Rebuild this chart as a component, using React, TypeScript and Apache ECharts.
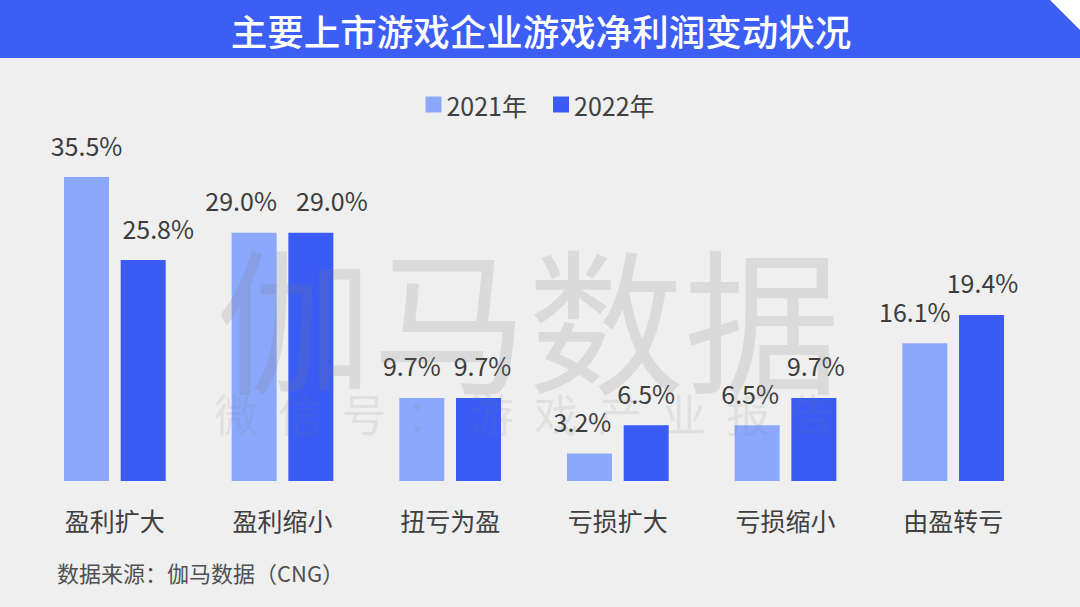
import React, { useEffect, useRef } from "react";
import * as echarts from "echarts";

const categories = ["盈利扩大", "盈利缩小", "扭亏为盈", "亏损扩大", "亏损缩小", "由盈转亏"];
const series2021 = [35.5, 29.0, 9.7, 3.2, 6.5, 16.1];
const series2022 = [25.8, 29.0, 9.7, 6.5, 9.7, 19.4];
const seriesNames = ["2021年", "2022年"];
const title = "主要上市游戏企业游戏净利润变动状况";
const source = "数据来源：伽马数据（CNG）";
const watermark = "伽马数据";
const watermarkSub = "微信号：游戏产业报告".split("");

// label horizontal nudges (style only)
const labelDx2021 = [0, -13, -10, -7, -7, -10];
const labelDx2022 = [15, 21, 4, 0, 2, 1];

const FONT = "'Noto Sans CJK SC', 'Noto Sans', sans-serif";

export default function App() {
  const ref = useRef<HTMLDivElement>(null);
  useEffect(() => {
    if (!ref.current) return;
    const chart = echarts.init(ref.current, null, { renderer: "svg" });
    const labelStyle = {
      show: true,
      position: "top",
      distance: 20,
      fontSize: 25,
      color: "#3c3c3c",
      fontFamily: FONT,
      formatter: (p: any) => p.value.toFixed(1) + "%",
    };
    const mk = (vals: number[], dx: number[]) =>
      vals.map((v, i) => ({ value: v, label: { offset: [dx[i], 0] } }));
    const subChars = watermarkSub.map((c, i) => ({
      type: "text",
      z: 100,
      x: 236 + i * 64,
      y: 413,
      silent: true,
      style: {
        text: c,
        fontSize: 44,
        fontFamily: FONT,
        fill: "rgba(120,120,120,0.14)",
        align: "center",
        verticalAlign: "middle",
      },
    }));
    chart.setOption({
      animation: false,
      backgroundColor: "#ffffff",
      textStyle: { fontFamily: FONT },
      graphic: [
        { type: "rect", z: -10, shape: { x: 0, y: 58, width: 1080, height: 549 }, style: { fill: "#efefef" } },
        {
          type: "polygon",
          z: -9,
          shape: { points: [[0, 0], [1050, 0], [1080, 30], [1080, 58], [0, 58]] },
          style: { fill: "#3d5ef5" },
        },
        {
          type: "text",
          z: 10,
          x: 541,
          y: 30,
          style: {
            text: title,
            fontSize: 36.5,
            fontWeight: 500,
            fontFamily: FONT,
            fill: "#ffffff",
            align: "center",
            verticalAlign: "middle",
          },
        },
        {
          type: "text",
          z: 10,
          x: 57,
          y: 572,
          style: {
            text: source,
            fontSize: 22,
            fontFamily: FONT,
            fill: "#505050",
            align: "left",
            verticalAlign: "middle",
          },
        },
        {
          type: "text",
          z: 100,
          x: 528,
          y: 314,
          silent: true,
          style: {
            text: watermark,
            fontSize: 156,
            fontFamily: FONT,
            fill: "rgba(120,120,120,0.18)",
            align: "center",
            verticalAlign: "middle",
          },
        },
        ...subChars,
      ],
      legend: {
        top: 87,
        left: "center",
        itemWidth: 16,
        itemHeight: 16,
        itemGap: 26,
        icon: "rect",
        textStyle: { fontSize: 25, color: "#404040", fontFamily: FONT },
        data: seriesNames,
      },
      grid: { left: 31, right: 43, top: 138.5, bottom: 126, containLabel: false },
      xAxis: {
        type: "category",
        data: categories,
        axisLine: { show: false },
        axisTick: { show: false },
        axisLabel: { fontSize: 25, color: "#404040", margin: 26, fontFamily: FONT },
      },
      yAxis: {
        type: "value",
        min: 0,
        max: 40,
        show: false,
        splitLine: { show: false },
      },
      series: [
        {
          name: seriesNames[0],
          type: "bar",
          data: mk(series2021, labelDx2021),
          barWidth: 45,
          barGap: "26%",
          itemStyle: { color: "#8ca8fd" },
          label: labelStyle,
        },
        {
          name: seriesNames[1],
          type: "bar",
          data: mk(series2022, labelDx2022),
          barWidth: 45,
          barGap: "26%",
          itemStyle: { color: "#3a5cf5" },
          label: labelStyle,
        },
      ],
    });
    return () => chart.dispose();
  }, []);
  return (
    <div
      ref={ref}
      style={{ position: "fixed", left: 0, top: 0, width: 1080, height: 607 }}
    />
  );
}
